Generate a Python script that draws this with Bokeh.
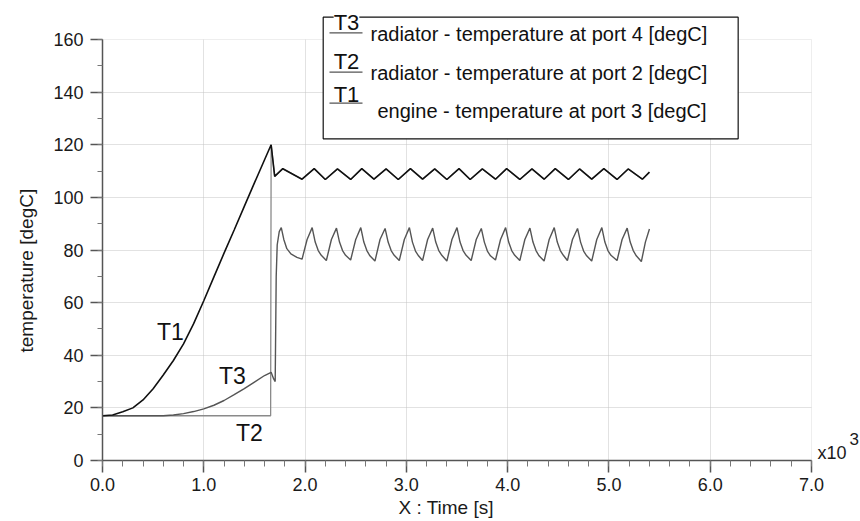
import math
from bokeh.plotting import figure
from bokeh.models import (Range1d, FixedTicker, PrintfTickFormatter, Label, BoxAnnotation,
                          Arrow, Title)
from bokeh.embed import file_html
from bokeh.resources import INLINE

# ---------------- data (time in 10^3 s, temperature in degC) ----------------
t1_time = [0.0, 0.1, 0.2, 0.3, 0.4, 0.5, 0.6, 0.7, 0.8, 0.9, 1.0, 1.1, 1.2, 1.3, 1.4, 1.5, 1.6, 1.665,
           1.70, 1.78, 1.97, 2.09, 2.20, 2.32, 2.45, 2.56, 2.68, 2.80, 2.92, 3.04, 3.16, 3.28, 3.40,
           3.52, 3.63, 3.75, 3.88, 3.99, 4.12, 4.24, 4.36, 4.47, 4.60, 4.71, 4.83, 4.95, 5.08, 5.19,
           5.33, 5.40]
t1_val = [17.0, 17.3, 18.5, 20.0, 23.0, 27.3, 32.5, 38.0, 44.3, 52.0, 60.7, 69.8, 78.8, 87.6, 96.6, 105.5, 114.3, 120.0,
          108.0, 110.9, 106.9, 110.9, 106.8, 110.8, 106.8, 110.9, 106.9, 110.8, 106.8, 110.9, 106.9, 110.8, 106.8,
          110.9, 106.8, 110.8, 106.9, 110.9, 106.8, 110.8, 106.9, 110.9, 106.8, 110.8, 106.9, 110.9, 106.8, 110.8,
          106.9, 109.6]

# radiator port 2: cold until the thermostat opens, then equal to engine outlet
t2_pre_time = [0.0, 1.66, 1.665]
t2_pre_val = [17.0, 17.0, 120.0]

t3_time = [0.0, 0.6, 0.7, 0.8, 0.9, 1.0, 1.1, 1.2, 1.3, 1.4, 1.5, 1.6, 1.665, 1.69, 1.705,
           1.715, 1.725, 1.745, 1.765, 1.79, 1.82, 1.86, 1.92,
           1.97, 2.02, 2.07, 2.10, 2.13, 2.16,
           2.21, 2.26, 2.31, 2.34, 2.37, 2.40,
           2.45, 2.50, 2.55, 2.58, 2.61, 2.64,
           2.69, 2.74, 2.79, 2.82, 2.85, 2.88,
           2.93, 2.98, 3.03, 3.06, 3.09, 3.12,
           3.16, 3.21, 3.26, 3.29, 3.32, 3.35,
           3.40, 3.45, 3.50, 3.53, 3.56, 3.59,
           3.64, 3.69, 3.74, 3.77, 3.80, 3.83,
           3.88, 3.93, 3.98, 4.01, 4.04, 4.07,
           4.12, 4.17, 4.22, 4.25, 4.28, 4.31,
           4.36, 4.41, 4.46, 4.49, 4.52, 4.55,
           4.59, 4.64, 4.69, 4.72, 4.75, 4.78,
           4.83, 4.88, 4.93, 4.96, 4.99, 5.02,
           5.08, 5.13, 5.18, 5.21, 5.24, 5.27,
           5.32, 5.36, 5.40]
t3_val = [17.0, 17.0, 17.3, 17.8, 18.6, 19.6, 21.0, 22.8, 25.0, 27.3, 29.8, 32.3, 33.5, 31.0, 30.0,
          70.0, 82.0, 87.0, 88.5, 84.0, 80.5, 78.5, 77.2,
          76.5, 84.0, 88.5, 83.0, 79.8, 78.0,
          76.0, 84.0, 88.3, 83.0, 79.8, 78.0,
          76.2, 84.0, 88.5, 83.0, 79.8, 77.8,
          75.8, 84.0, 88.2, 83.0, 79.8, 78.0,
          76.0, 84.0, 88.5, 83.0, 79.6, 77.8,
          76.0, 84.0, 88.3, 83.0, 79.8, 78.0,
          75.8, 84.0, 88.5, 83.0, 79.8, 78.0,
          76.0, 84.0, 88.2, 83.0, 79.6, 77.8,
          76.2, 84.0, 88.5, 83.0, 79.8, 78.0,
          76.0, 84.0, 88.3, 83.0, 79.8, 77.8,
          75.8, 84.0, 88.5, 83.0, 79.8, 78.0,
          76.0, 84.0, 88.2, 83.0, 79.6, 77.8,
          75.8, 84.0, 88.5, 83.0, 79.8, 78.0,
          76.0, 84.0, 88.3, 83.0, 79.8, 77.8,
          75.6, 83.0, 88.0]

x_ticks = [0, 1, 2, 3, 4, 5, 6, 7]
y_ticks = [0, 20, 40, 60, 80, 100, 120, 140, 160]

legend_names = ["T3", "T2", "T1"]
legend_texts = ["radiator - temperature at port 4 [degC]",
                "radiator - temperature at port 2 [degC]",
                "engine - temperature at port 3 [degC]"]

# build T2 from its cold part plus the engine curve after opening
t2_time = t2_pre_time + [t for t in t1_time if t > 1.665]
t2_val = t2_pre_val + [v for t, v in zip(t1_time, t1_val) if t > 1.665]

FONT = "Liberation Sans"
X_MAX, Y_MAX = x_ticks[-1], y_ticks[-1]

# plot frame extends to the top/right canvas edges so that the legend and the
# x10^3 note (which sit outside the axes box) are not clipped
p = figure(width=860, height=521, output_backend="svg", toolbar_location=None,
           x_range=Range1d(0, X_MAX * 758 / 709), y_range=Range1d(0, Y_MAX * 460 / 421),
           min_border_left=102, min_border_right=0, min_border_top=0, min_border_bottom=61)
p.background_fill_color = "white"
p.border_fill_color = "white"
p.outline_line_color = None

# axes
for ax in (p.xaxis[0], p.yaxis[0]):
    ax.axis_line_color = "#555555"
    ax.axis_line_width = 1.5
    ax.major_tick_line_color = "#555555"
    ax.major_tick_line_width = 1.5
    ax.minor_tick_line_color = "#777777"
    ax.major_tick_out = 12
    ax.major_tick_in = 0
    ax.minor_tick_in = 0
    ax.major_label_text_font = FONT
    ax.major_label_text_font_size = "18px"
    ax.major_label_text_color = "#1a1a1a"

p.xaxis[0].bounds = (0, X_MAX)
p.yaxis[0].bounds = (0, Y_MAX)
p.xaxis[0].ticker = FixedTicker(ticks=x_ticks, minor_ticks=[i * 0.2 for i in range(36)])
p.yaxis[0].ticker = FixedTicker(ticks=y_ticks, minor_ticks=[i * 10 for i in range(17)])
p.xaxis[0].formatter = PrintfTickFormatter(format="%.1f")
p.xaxis[0].minor_tick_out = 6
p.yaxis[0].minor_tick_out = 5
p.xaxis[0].major_label_standoff = 5
p.yaxis[0].major_label_standoff = 7

p.xgrid.grid_line_color = "#c4c4c4"
p.ygrid.grid_line_color = "#c4c4c4"
p.xgrid.grid_line_dash = "1 1"
p.ygrid.grid_line_dash = "1 1"
p.xgrid.ticker = FixedTicker(ticks=x_ticks[1:-1])
p.ygrid.ticker = FixedTicker(ticks=y_ticks[1:-1])

# blank out grid outside the axes box, then draw the light box border
p.add_layout(BoxAnnotation(left=X_MAX, fill_color="white", fill_alpha=1.0, line_alpha=0, level="underlay"))
p.add_layout(BoxAnnotation(bottom=Y_MAX, fill_color="white", fill_alpha=1.0, line_alpha=0, level="underlay"))
p.add_layout(BoxAnnotation(left=0, right=X_MAX, bottom=0, top=Y_MAX, fill_alpha=0,
                           line_color="#c8c8c8", line_width=1, level="underlay"))

# axis titles
p.add_layout(Title(text="temperature [degC]", align="left", offset=108, standoff=27,
                   text_font=FONT, text_font_size="19px", text_font_style="normal",
                   text_color="#1a1a1a"), "left")
p.add_layout(Title(text="X : Time [s]", align="left", offset=296, standoff=3,
                   text_font=FONT, text_font_size="19px", text_font_style="normal",
                   text_color="#1a1a1a"), "below")

# curves
p.line(t2_time, t2_val, line_color="#8a8a8a", line_width=1.3)
p.line(t3_time, t3_val, line_color="#555555", line_width=1.4)
p.line(t1_time, t1_val, line_color="#111111", line_width=1.6)

# in-plot curve labels
for txt, x, y in [("T1", 0.67, 49.0), ("T3", 1.283, 32.3), ("T2", 1.451, 10.6)]:
    p.add_layout(Label(x=x, y=y, text=txt, text_font=FONT, text_font_size="23px",
                       text_align="center", text_baseline="middle", text_color="#111111"))

# x10^3 note
p.add_layout(Label(x=7.059, y=3.0, text="x10", text_font=FONT, text_font_size="18px",
                   text_align="left", text_baseline="middle", text_color="#1a1a1a"))
p.add_layout(Label(x=7.375, y=8.0, text="3", text_font=FONT, text_font_size="17px",
                   text_align="left", text_baseline="middle", text_color="#1a1a1a"))

# legend box
p.add_layout(BoxAnnotation(left=2.179, right=6.276, top=168.48, bottom=122.26,
                           fill_color="white", fill_alpha=1.0, line_color="#111111",
                           line_width=1.2, line_alpha=1.0))
rows = [(166.65, 162.55, 2.646, 162.17), (151.75, 147.57, 2.646, 147.35), (139.21, 135.79, 2.715, 132.75)]
for name, txt, (yb, yu, xt, yt) in zip(legend_names, legend_texts, rows):
    p.add_layout(Label(x=2.409, y=yb, text=name, text_font=FONT, text_font_size="22px",
                       text_align="center", text_baseline="middle", text_color="#111111",
                       background_fill_color="white"))
    p.add_layout(Arrow(end=None, x_start=2.241, x_end=2.567, y_start=yu, y_end=yu,
                       line_color="#555555", line_width=1.2))
    p.add_layout(Label(x=xt, y=yt, text=txt, text_font=FONT, text_font_size="20px",
                       text_align="left", text_baseline="middle", text_color="#111111"))

open("out.html", "w").write(file_html(p, INLINE))
